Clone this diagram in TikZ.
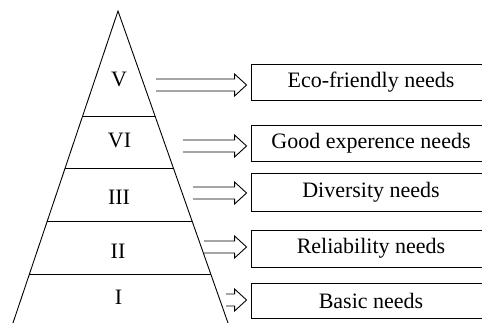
\documentclass[tikz,border=0pt]{standalone}
\usepackage{fontspec}
\setmainfont{Liberation Serif}
\usetikzlibrary{calc}
\newcommand\hollowarrow[2]{%
  \draw[hollow] let \p1=(#1), \p2=([xshift=-4pt]#2.west) in
    (\x1,\y1+6pt) -- (\x2-12pt,\y1+6pt) -- (\x2-12pt,\y1+11pt) -- (\x2,\y1)
    -- (\x2-12pt,\y1-11pt) -- (\x2-12pt,\y1-6pt) -- (\x1,\y1-6pt);}
\begin{document}
\begin{tikzpicture}[x=1pt,y=-1pt,
  edge/.style={line width=0.9pt},
  needbox/.style={draw,line width=0.9pt,minimum width=240pt,inner sep=0pt,
    font=\fontsize{22}{26}\selectfont},
  level/.style={font=\fontsize{22}{26}\selectfont,inner sep=0pt},
  hollow/.style={line width=0.9pt,line join=miter}]
\clip (0,0) rectangle (482,323);
\fill[white] (0,0) rectangle (482,323);
% pyramid
\coordinate (apex) at (118,11);
\coordinate (bl) at (10.6,330);
\coordinate (br) at (230.5,330);
\draw[edge] (bl) -- (apex) -- (br);
\draw[edge] ($(apex)!0.3292!(bl)$) -- ($(apex)!0.3292!(br)$);
\draw[edge] ($(apex)!0.4922!(bl)$) -- ($(apex)!0.4922!(br)$);
\draw[edge] ($(apex)!0.6583!(bl)$) -- ($(apex)!0.6583!(br)$);
\draw[edge] ($(apex)!0.8245!(bl)$) -- ($(apex)!0.8245!(br)$);
% level labels
\node[level] (l5) at (119,79) {V};
\node[level] (l6) at (119.5,140) {VI};
\node[level] (l3) at (119,197) {III};
\node[level] (l2) at (118,251) {II};
\node[level] (l1) at (118.5,297.5) {I};
% boxes
\node[needbox,minimum height=36pt] (b1) at (371,82) {Eco-friendly needs};
\node[needbox,minimum height=36pt] (b2) at (371,143) {Good experence needs};
\node[needbox,minimum height=38pt] (b3) at (371,192) {Diversity needs};
\node[needbox,minimum height=37pt] (b4) at (371,248.5) {Reliability needs};
\node[needbox,minimum height=35pt] (b5) at (371,300.5) {Basic needs};
% arrows
\coordinate (s1) at (156,85);
\coordinate (s2) at (183,146);
\coordinate (s3) at (193,193);
\coordinate (s4) at (204,247);
\coordinate (s5) at (226,300);
\hollowarrow{s1}{b1}
\hollowarrow{s2}{b2}
\hollowarrow{s3}{b3}
\hollowarrow{s4}{b4}
\hollowarrow{s5}{b5}
\end{tikzpicture}
\end{document}
